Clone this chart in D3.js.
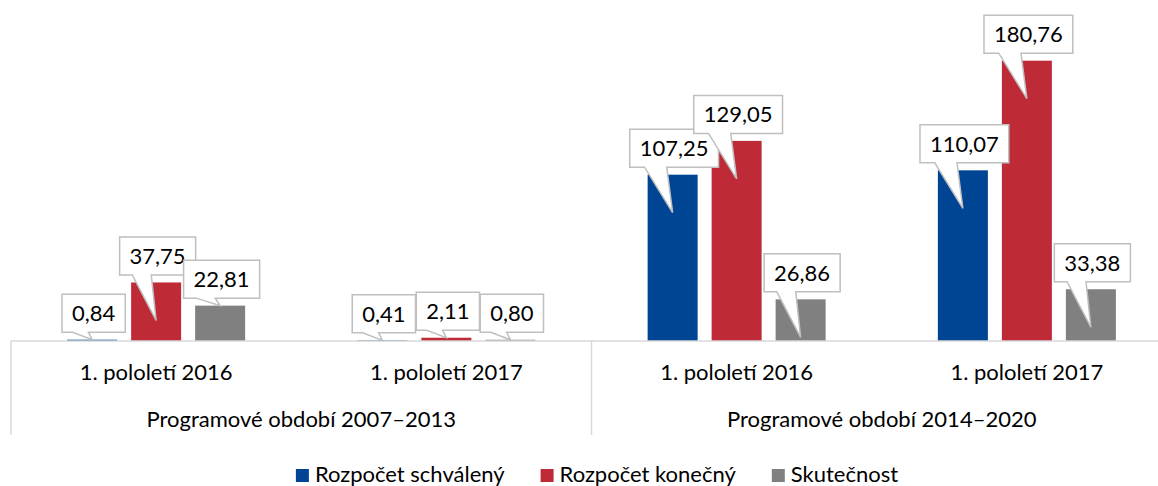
<!DOCTYPE html>
<html>
<head>
<meta charset="utf-8">
<script src="https://cdn.jsdelivr.net/npm/d3@7"></script>
<style>
  html, body { margin: 0; padding: 0; background: #ffffff; }
  svg { display: block; }
  text { font-family: Lato, "Open Sans", sans-serif; fill: #000; }
</style>
</head>
<body>
<svg id="chart" width="1158" height="486"></svg>
<script>
// ---- data ----
const periods = ["Programové období 2007–2013", "Programové období 2014–2020"];
const categories = ["1. pololetí 2016", "1. pololetí 2017", "1. pololetí 2016", "1. pololetí 2017"];
const categoryPeriod = [0, 0, 1, 1];
const seriesNames = ["Rozpočet schválený", "Rozpočet konečný", "Skutečnost"];
const schvaleny = [0.84, 0.41, 107.25, 110.07];
const konecny = [37.75, 2.11, 129.05, 180.76];
const skutecnost = [22.81, 0.80, 26.86, 33.38];
const seriesColors = ["#004494", "#BF2A37", "#808080"];

const seriesValues = [schvaleny, konecny, skutecnost];

// ---- layout ----
const W = 1158, H = 486;
const baseY = 341;
const plotLeft = 11, plotRight = 1172;
const fontSize = 22;

const svg = d3.select("#chart");
const fmt = d3.formatLocale({decimal: ",", thousands: " ", grouping: [3], currency: ["", ""]}).format(".2f");

const x0 = d3.scaleBand()
  .domain(d3.range(categories.length))
  .range([plotLeft, plotRight])
  .padding(0);

const x1 = d3.scaleBand()
  .domain(d3.range(seriesNames.length))
  .range([0, x0.bandwidth()])
  .paddingInner(0.21875)
  .paddingOuter(0.877);

const y = d3.scaleLinear()
  .domain([0, 200])
  .range([baseY, baseY - 200 * 1.5507]);

// flatten data for bars
const bars = [];
categories.forEach((c, i) => {
  seriesNames.forEach((s, j) => {
    bars.push({cat: i, ser: j, value: seriesValues[j][i]});
  });
});

// bars
svg.append("g").selectAll("rect")
  .data(bars)
  .join("rect")
  .attr("x", d => x0(d.cat) + x1(d.ser))
  .attr("width", x1.bandwidth())
  .attr("y", d => y(d.value))
  .attr("height", d => y(0) - y(d.value))
  .attr("fill", d => seriesColors[d.ser]);

// axis lines
const axisColor = "#D9D9D9";
const axisG = svg.append("g");
axisG.append("line")
  .attr("x1", plotLeft).attr("x2", plotRight)
  .attr("y1", baseY).attr("y2", baseY)
  .attr("stroke", axisColor).attr("stroke-width", 1.5);
// group separators (start of plot, between periods, end)
const periodEdges = [0, 2, 4].map(i => i < categories.length ? x0(i) : plotRight);
axisG.selectAll("line.sep")
  .data(periodEdges)
  .join("line")
  .attr("class", "sep")
  .attr("x1", d => d).attr("x2", d => d)
  .attr("y1", baseY).attr("y2", 435)
  .attr("stroke", axisColor).attr("stroke-width", 1.5);

// category labels
svg.append("g").selectAll("text")
  .data(categories)
  .join("text")
  .attr("x", (d, i) => x0(i) + x0.bandwidth() / 2)
  .attr("y", 380)
  .attr("text-anchor", "middle")
  .attr("font-size", fontSize)
  .text(d => d);

// period labels
svg.append("g").selectAll("text")
  .data(periods)
  .join("text")
  .attr("x", (d, p) => {
    const idx = categoryPeriod.map((v, i) => v === p ? i : -1).filter(i => i >= 0);
    const a = x0(idx[0]), b = x0(idx[idx.length - 1]) + x0.bandwidth();
    return (a + b) / 2;
  })
  .attr("y", 427)
  .attr("text-anchor", "middle")
  .attr("font-size", fontSize)
  .text(d => d);

// callout data labels
const boxH = 38, gapAbove = 7.5, tipDepth = 38, padX = 10;
const calloutG = svg.append("g");
bars.forEach(d => {
  const cx = x0(d.cat) + x1(d.ser) + x1.bandwidth() / 2;
  const top = y(d.value);
  const g = calloutG.append("g");
  const path = g.append("path");
  const t = g.append("text")
    .attr("font-size", fontSize)
    .attr("text-anchor", "middle")
    .text(fmt(d.value));
  const tw = t.node().getComputedTextLength();
  const bw = tw + 2 * padX;
  const bcx = cx + 1.5;
  const bx0 = bcx - bw / 2, bx1 = bcx + bw / 2;
  const by1 = top - gapAbove, by0 = by1 - boxH;
  const tipY = (top + tipDepth <= baseY - 1) ? top + tipDepth : top;
  const tipX = cx;
  const baseA = bx0 + bw / 6, baseB = bx0 + bw * 5 / 12;
  path.attr("d", `M${bx0},${by0}H${bx1}V${by1}H${baseB}L${tipX},${tipY}L${baseA},${by1}H${bx0}Z`)
    .attr("fill", "#ffffff")
    .attr("stroke", "#BFBFBF")
    .attr("stroke-width", 1.5)
    .attr("stroke-linejoin", "miter");
  t.attr("x", bcx).attr("y", (by0 + by1) / 2 + fontSize * 0.36);
});

// legend
const legend = svg.append("g");
let lx = 0;
const items = [];
seriesNames.forEach((s, i) => {
  const g = legend.append("g");
  g.append("rect").attr("x", 0).attr("y", -13).attr("width", 13).attr("height", 13).attr("fill", seriesColors[i]);
  const t = g.append("text").attr("x", 19).attr("y", 0).attr("font-size", fontSize).text(s);
  const w = 19 + t.node().getComputedTextLength();
  g.attr("transform", `translate(${lx},0)`);
  items.push(g);
  lx += w + (i < seriesNames.length - 1 ? 36 : 0);
});
legend.attr("transform", `translate(${597 - lx / 2},482)`);
</script>
</body>
</html>
